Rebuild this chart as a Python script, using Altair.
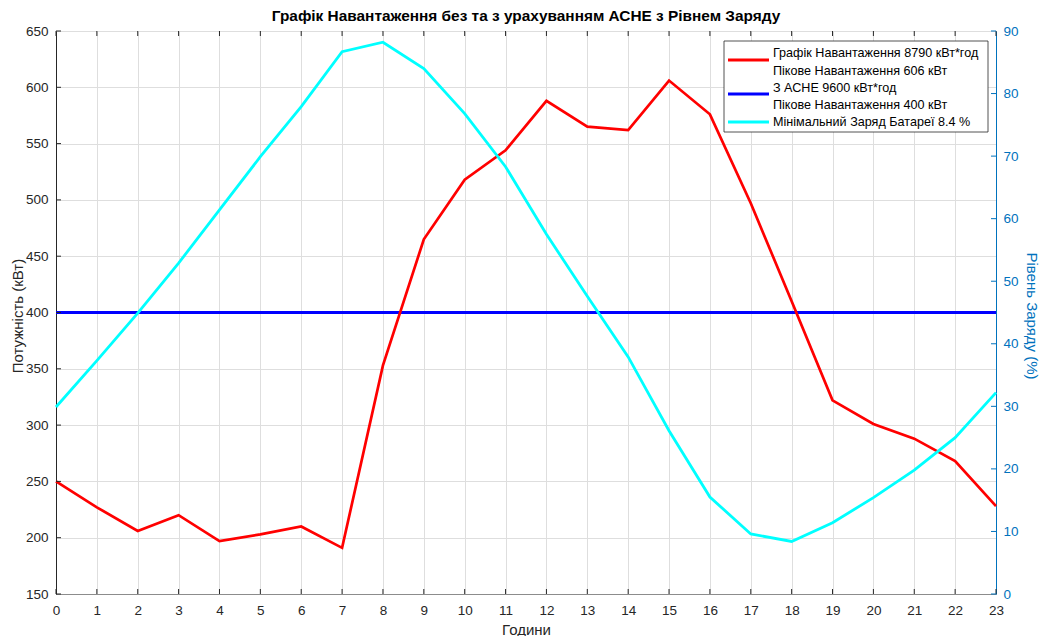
import altair as alt
import pandas as pd

# ---- data ----
hours = list(range(24))
load_base = [250, 227, 206, 220, 197, 203, 210, 191, 353, 465, 518, 544,
             588, 565, 562, 606, 576, 497, 410, 322, 301, 288, 268, 228]
load_bess = [400, 400, 400, 400, 400, 400, 400, 400, 400, 400, 400, 400,
             400, 400, 400, 400, 400, 400, 400, 400, 400, 400, 400, 400]
soc = [29.9, 37.3, 44.9, 52.9, 61.4, 69.9, 77.9, 86.7, 88.2, 84.0, 76.8, 68.3,
       57.5, 47.6, 37.9, 26.1, 15.5, 9.6, 8.4, 11.4, 15.4, 19.8, 25.0, 32.2]

x_ticks = list(range(24))
left_ticks = [150, 200, 250, 300, 350, 400, 450, 500, 550, 600, 650]
right_ticks = [0, 10, 20, 30, 40, 50, 60, 70, 80, 90]

title_text = "Графік Навантаження без та з урахуванням АСНЕ з Рівнем Заряду"
x_title = "Години"
left_title = "Потужність (кВт)"
right_title = "Рівень Заряду (%)"
legend_lines = ["Графік Навантаження 8790 кВт*год",
                "Пікове Навантаження 606 кВт",
                "З АСНЕ 9600 кВт*год",
                "Пікове Навантаження 400 кВт",
                "Мінімальний Заряд Батареї 8.4 %"]
series_colors = ["#FF0000", "#0000FF", "#00FFFF"]

W, H = 940, 563
FONT = "Liberation Sans"
TXT = "#262626"
RIGHT_BLUE = "#0072BD"
GRID = "#dedede"

df = pd.DataFrame({"hour": hours, "base": load_base, "bess": load_bess, "soc": soc})
df_xt = pd.DataFrame({"hour": x_ticks})
df_lt = pd.DataFrame({"load": left_ticks})
df_rt = pd.DataFrame({"soc": right_ticks})

x_scale = alt.Scale(domain=[0, 23], nice=False, zero=False)
x_axis = alt.Axis(values=x_ticks, grid=True, gridColor=GRID, gridWidth=1,
                  ticks=False, domain=True, domainColor="#8c8c8c",
                  labelPadding=9, labelFlush=False, labelOverlap=False,
                  format="d", title=x_title, titleY=35, titleBaseline="middle")
X = alt.X("hour:Q", scale=x_scale, axis=x_axis)

yl_scale = alt.Scale(domain=[150, 650], nice=False, zero=False)
yl_axis = alt.Axis(values=left_ticks, grid=True, gridColor=GRID, gridWidth=1,
                   ticks=False, domain=True, domainColor="#262626",
                   labelPadding=8, labelOverlap=False, format="d",
                   title=left_title, titleX=-39, titleY=H / 2 + 3,
                   titleAngle=-90, titleBaseline="middle", titleAlign="center")

yr_scale = alt.Scale(domain=[0, 90], nice=False, zero=False)
yr_axis = alt.Axis(orient="right", values=right_ticks, grid=False, ticks=False,
                   domain=True, domainColor=RIGHT_BLUE, labelColor=RIGHT_BLUE,
                   titleColor=RIGHT_BLUE, labelPadding=7, labelOverlap=False,
                   format="d", title=right_title, titleX=35, titleY=H / 2 + 3,
                   titleAngle=90, titleBaseline="middle", titleAlign="center")

base = alt.Chart(df)

blue_line = base.mark_line(color=series_colors[1], strokeWidth=2.8).encode(
    x=X, y=alt.Y("bess:Q", scale=yl_scale, axis=yl_axis))
red_line = base.mark_line(color=series_colors[0], strokeWidth=2.7).encode(
    x=X, y=alt.Y("base:Q", scale=yl_scale, axis=yl_axis))

x_ticks_bottom = alt.Chart(df_xt).mark_rule(color="#262626", strokeWidth=1).encode(
    x=X, y=alt.value(H), y2=alt.value(H - 5))
x_ticks_top = alt.Chart(df_xt).mark_rule(color="#262626", strokeWidth=1).encode(
    x=X, y=alt.value(0), y2=alt.value(5))
l_ticks = alt.Chart(df_lt).mark_rule(color="#262626", strokeWidth=1).encode(
    y=alt.Y("load:Q", scale=yl_scale, axis=yl_axis), x=alt.value(0), x2=alt.value(5))

left_group = alt.layer(blue_line, red_line, x_ticks_bottom, x_ticks_top, l_ticks)

cyan_line = base.mark_line(color=series_colors[2], strokeWidth=2.8).encode(
    x=X, y=alt.Y("soc:Q", scale=yr_scale, axis=yr_axis))
r_ticks = alt.Chart(df_rt).mark_rule(color=RIGHT_BLUE, strokeWidth=1).encode(
    y=alt.Y("soc:Q", scale=yr_scale, axis=yr_axis), x=alt.value(W - 5), x2=alt.value(W))

right_group = alt.layer(cyan_line, r_ticks)

# ---- legend (annotation box, top right) ----
one = pd.DataFrame({"k": [0]})
LX0, LX1, LY0, LY1 = 668, 932, 10, 101
legend_box = alt.Chart(one).mark_rect(fill="white", stroke="#262626", strokeWidth=0.8).encode(
    x=alt.value(LX0), x2=alt.value(LX1), y=alt.value(LY0), y2=alt.value(LY1))
swatch_y = [29, 63, 91]
swatches = [
    alt.Chart(one).mark_rule(color=c, strokeWidth=2.8).encode(
        x=alt.value(672), x2=alt.value(713), y=alt.value(sy))
    for c, sy in zip(series_colors, swatch_y)
]
text_y = [22, 39.5, 56.5, 74, 91]
texts = [
    alt.Chart(pd.DataFrame({"t": [t]})).mark_text(
        align="left", baseline="middle", font=FONT, fontSize=12.6, color="#000000"
    ).encode(x=alt.value(717), y=alt.value(ty), text="t:N")
    for t, ty in zip(legend_lines, text_y)
]
legend_layer = alt.layer(legend_box, *swatches, *texts)

chart = alt.layer(left_group, right_group, legend_layer).resolve_scale(
    y="independent"
).properties(
    width=W, height=H,
    title=alt.Title(title_text, font=FONT, fontSize=15.4, fontWeight="bold",
                    color="#000000", anchor="middle", offset=0),
    padding={"left": 56, "top": 31, "right": 43, "bottom": 42},
    autosize=alt.AutoSizeParams(type="none"),
    background="white",
).configure_view(
    stroke="#8c8c8c", strokeWidth=1
).configure_axis(
    labelFont=FONT, titleFont=FONT, labelFontSize=13.5, titleFontSize=15,
    labelColor=TXT, titleColor=TXT, titleFontWeight="normal"
)

chart.save("out.html", embed_options={"renderer": "svg", "actions": False})
